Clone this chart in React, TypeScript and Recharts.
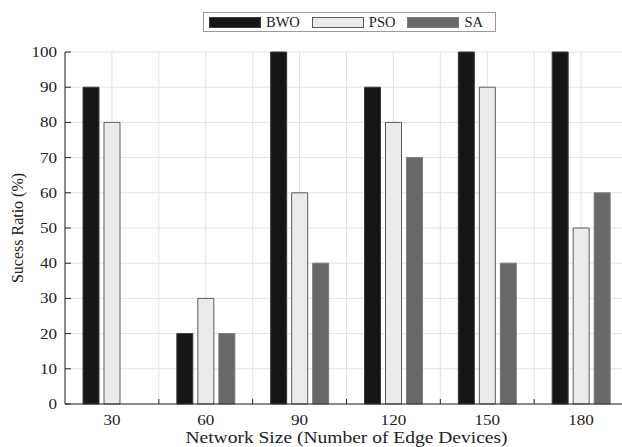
import { Bar, BarChart, CartesianGrid, XAxis, YAxis } from "recharts";

const sizes = ["30", "60", "90", "120", "150", "180"];
const bwoRatio = [90, 20, 100, 90, 100, 100];
const psoRatio = [80, 30, 60, 80, 90, 50];
const saRatio = [0, 20, 40, 70, 40, 60];
const ratioTicks = [0, 10, 20, 30, 40, 50, 60, 70, 80, 90, 100];

const series = [
  { key: "BWO", fill: "#161616", stroke: "#3c3c3c" },
  { key: "PSO", fill: "#eaebea", stroke: "#5c5c5c" },
  { key: "SA", fill: "#686868", stroke: "#7c7c7c" },
];

const data = sizes.map((size, i) => ({
  size,
  BWO: bwoRatio[i],
  PSO: psoRatio[i],
  SA: saRatio[i],
}));

// the figure is stretched sideways, so text gets a horizontal scale
const SX = 1.22;
const FONT = "'Liberation Serif', 'Times New Roman', serif";
const CHART_W = 640;
const CHART_H = 447;
const Y_W = 65;
const MARGIN = { top: 52, right: 12, left: 0, bottom: 0 };
const BAND = (CHART_W - Y_W - MARGIN.left - MARGIN.right) / sizes.length;

function XTick(props: any) {
  const { x, y, payload, index } = props;
  return (
    <g>
      <text
        transform={`translate(${x},${y + 21}) scale(${SX},1)`}
        textAnchor="middle"
        fontSize={14}
        fontFamily={FONT}
        fill="#222"
      >
        {payload.value}
      </text>
      {index < sizes.length - 1 && (
        <line x1={x + BAND / 2} x2={x + BAND / 2} y1={y} y2={y - 5} stroke="#262626" />
      )}
    </g>
  );
}

function YTick(props: any) {
  const { x, y, payload } = props;
  return (
    <g>
      <line x1={x} x2={x + 6} y1={y} y2={y} stroke="#262626" />
      <text
        transform={`translate(${x - 8},${y + 5}) scale(${SX},1)`}
        textAnchor="end"
        fontSize={14}
        fontFamily={FONT}
        fill="#222"
      >
        {payload.value}
      </text>
    </g>
  );
}

function XTitle(props: any) {
  const { viewBox } = props;
  const cx = viewBox.x + viewBox.width / 2;
  return (
    <text
      transform={`translate(${cx},${viewBox.y + viewBox.height - 4}) scale(${SX},1)`}
      textAnchor="middle"
      fontSize={16}
      fontFamily={FONT}
      fill="#222"
    >
      Network Size (Number of Edge Devices)
    </text>
  );
}

function YTitle(props: any) {
  const { viewBox } = props;
  const cy = viewBox.y + viewBox.height / 2;
  return (
    <text
      transform={`translate(23,${cy}) rotate(-90)`}
      textAnchor="middle"
      fontSize={16}
      fontFamily={FONT}
      fill="#222"
    >
      Sucess Ratio (%)
    </text>
  );
}

function LegendBox() {
  return (
    <div
      style={{
        position: "absolute",
        left: 203,
        top: 12,
        height: 20,
        boxSizing: "border-box",
        border: "1px solid #9a9a9a",
        background: "#fff",
        display: "flex",
        alignItems: "center",
        padding: "0 12px 0 5px",
        fontFamily: FONT,
        fontSize: 14.5,
        color: "#222",
      }}
    >
      {series.map((s, i) => (
        <div key={s.key} style={{ display: "flex", alignItems: "center", marginLeft: i === 0 ? 0 : 12 }}>
          <div
            style={{
              width: 52,
              height: 11,
              boxSizing: "border-box",
              background: s.fill,
              border: `1px solid ${s.stroke}`,
              marginRight: 5,
            }}
          />
          <span style={{ lineHeight: "14px" }}>{s.key}</span>
        </div>
      ))}
    </div>
  );
}

export default function App() {
  return (
    <div
      style={{
        position: "absolute",
        left: 0,
        top: 0,
        width: 622,
        height: 447,
        overflow: "hidden",
        background: "#fff",
      }}
    >
      <BarChart
        width={CHART_W}
        height={CHART_H}
        data={data}
        margin={MARGIN}
        barSize={16}
        barGap={5}
      >
        <CartesianGrid
          stroke="#e2e2e2"
          verticalCoordinatesGenerator={({ offset }: any) =>
            Array.from({ length: sizes.length * 2 + 1 }, (_, i) => offset.left + (i * offset.width) / (sizes.length * 2))
          }
        />
        <XAxis
          dataKey="size"
          height={CHART_H - MARGIN.top - 352}
          axisLine={{ stroke: "#262626" }}
          tickLine={false}
          tickSize={0}
          tickMargin={0}
          interval={0}
          tick={<XTick />}
          label={{ content: <XTitle /> }}
        />
        <YAxis
          width={Y_W}
          domain={[0, 100]}
          ticks={ratioTicks}
          axisLine={{ stroke: "#262626" }}
          tickLine={false}
          tickSize={0}
          tickMargin={0}
          interval={0}
          tick={<YTick />}
          label={{ content: <YTitle /> }}
        />
        {series.map((s) => (
          <Bar
            key={s.key}
            dataKey={s.key}
            fill={s.fill}
            stroke={s.stroke}
            strokeWidth={1}
            isAnimationActive={false}
          />
        ))}
      </BarChart>
      <LegendBox />
    </div>
  );
}
